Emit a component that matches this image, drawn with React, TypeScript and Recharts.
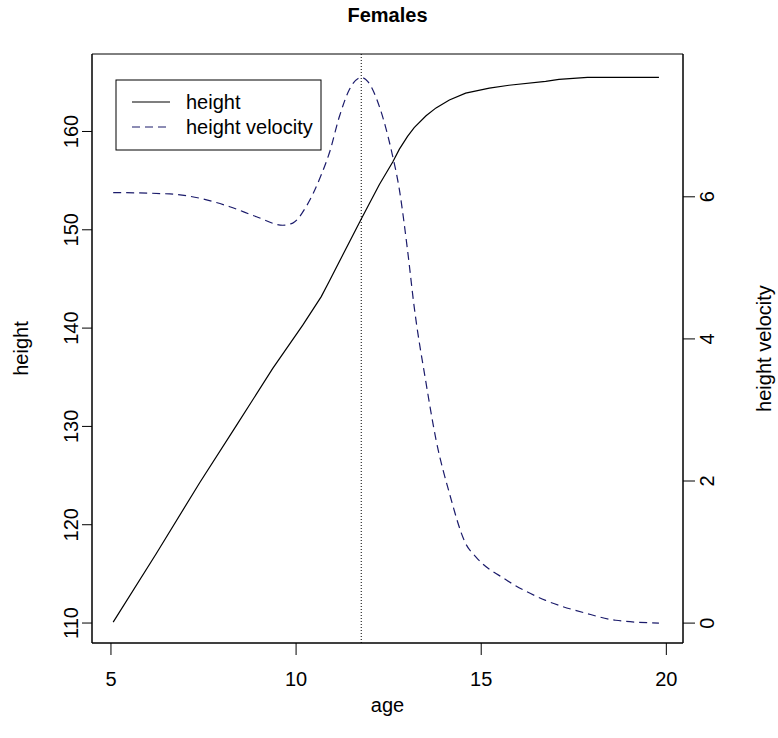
import { ComposedChart, Line, XAxis, YAxis, ReferenceLine, ReferenceArea, Customized } from 'recharts';

const FONT = '"Liberation Sans", Arial, Helvetica, sans-serif';
const VELOCITY_COLOR = '#1b1b6b';

const AGE_DOMAIN = [4.488, 20.45];
const HEIGHT_DOMAIN = [107.97, 167.88];
const VELOCITY_DOMAIN = [-0.28, 8.01];

const AGE_TICKS = [5, 10, 15, 20];
const HEIGHT_TICKS = [110, 120, 130, 140, 150, 160];
const VELOCITY_TICKS = [0, 2, 4, 6];

// height curve (age, cm)
const heightAges = [5.06, 6.23, 7.4, 8.39, 9.37, 10.18, 10.68, 10.9, 11.76, 12.25, 12.61, 12.79, 13.01, 13.19, 13.51, 13.78, 14.14, 14.58, 15.22, 15.75, 16.74, 17.1, 17.87, 19.8];
const heights = [110.1, 117.1, 124.3, 130.1, 135.9, 140.3, 143.2, 144.8, 151.1, 154.6, 156.9, 158.2, 159.5, 160.4, 161.6, 162.4, 163.2, 163.9, 164.4, 164.7, 165.1, 165.3, 165.5, 165.5];

// height velocity curve (age, cm/yr)
const velocityAges = [5.06, 6.59, 7.4, 8.21, 8.93, 9.64, 9.91, 10.27, 10.68, 10.9, 11.17, 11.44, 11.76, 11.94, 12.25, 12.57, 12.79, 13.01, 13.19, 13.51, 13.78, 14.14, 14.58, 14.86, 15.67, 16.74, 17.82, 18.63, 19.8];
const velocities = [6.06, 6.04, 5.98, 5.86, 5.72, 5.6, 5.63, 5.86, 6.31, 6.62, 7.13, 7.51, 7.68, 7.62, 7.27, 6.66, 6.1, 5.25, 4.45, 3.38, 2.58, 1.83, 1.12, 0.93, 0.61, 0.32, 0.14, 0.04, 0.0];

const PEAK_AGE = 11.76;

const heightData = heightAges.map((age, i) => ({ age, height: heights[i] }));
const velocityData = velocityAges.map((age, i) => ({ age, velocity: velocities[i] }));

const BottomTick = ({ x, y, payload }: any) => (
  <text x={x} y={y + 31} textAnchor="middle" fontSize={20} fontFamily={FONT} fill="#000">
    {payload.value}
  </text>
);

const LeftTick = ({ x, y, payload }: any) => {
  const bx = x - 4;
  return (
    <text x={bx} y={y} transform={`rotate(-90 ${bx} ${y})`} textAnchor="middle" fontSize={20} fontFamily={FONT} fill="#000">
      {payload.value}
    </text>
  );
};

const RightTick = ({ x, y, payload }: any) => {
  const bx = x + 19;
  return (
    <text x={bx} y={y} transform={`rotate(-90 ${bx} ${y})`} textAnchor="middle" fontSize={20} fontFamily={FONT} fill="#000">
      {payload.value}
    </text>
  );
};

const Title = () => (
  <text x={387.5} y={22} textAnchor="middle" fontSize={20} fontWeight="bold" fontFamily={FONT} fill="#000">
    Females
  </text>
);

const LegendBox = () => (
  <g transform="translate(116,80)" fontFamily={FONT} fontSize={20}>
    <rect x={0} y={0} width={205} height={70} fill="#fff" stroke="#000" strokeWidth={1} />
    <line x1={16} y1={22} x2={54} y2={22} stroke="#000" strokeWidth={1.2} />
    <text x={70} y={29} fill="#000">height</text>
    <line x1={16} y1={47} x2={54} y2={47} stroke={VELOCITY_COLOR} strokeWidth={1.2} strokeDasharray="8 5" />
    <text x={70} y={54} fill="#000">height velocity</text>
  </g>
);

export default function App() {
  return (
    <div style={{ position: 'absolute', left: 0, top: 0, width: 778, height: 738, background: '#fff' }}>
      <ComposedChart width={778} height={738} margin={{ top: 54, right: 0, bottom: 0, left: 0 }}>
        <XAxis
          type="number"
          dataKey="age"
          domain={AGE_DOMAIN}
          ticks={AGE_TICKS}
          allowDataOverflow
          height={95}
          tickSize={12}
          tickMargin={0}
          stroke="#000"
          tick={<BottomTick />}
          label={({ viewBox }: any) => (
            <text x={viewBox.x + viewBox.width / 2} y={viewBox.y + 69} textAnchor="middle" fontSize={20} fontFamily={FONT} fill="#000">
              age
            </text>
          )}
        />
        <YAxis
          yAxisId="left"
          orientation="left"
          type="number"
          domain={HEIGHT_DOMAIN}
          ticks={HEIGHT_TICKS}
          allowDataOverflow
          width={92}
          tickSize={10}
          tickMargin={0}
          stroke="#000"
          tick={<LeftTick />}
          label={({ viewBox }: any) => {
            const bx = 28;
            const cy = viewBox.y + viewBox.height / 2;
            return (
              <text x={bx} y={cy} transform={`rotate(-90 ${bx} ${cy})`} textAnchor="middle" fontSize={20} fontFamily={FONT} fill="#000">
                height
              </text>
            );
          }}
        />
        <YAxis
          yAxisId="right"
          orientation="right"
          type="number"
          domain={VELOCITY_DOMAIN}
          ticks={VELOCITY_TICKS}
          allowDataOverflow
          width={95}
          tickSize={12}
          tickMargin={0}
          stroke="#000"
          tick={<RightTick />}
          label={({ viewBox }: any) => {
            const bx = 771;
            const cy = viewBox.y + viewBox.height / 2;
            return (
              <text x={bx} y={cy} transform={`rotate(-90 ${bx} ${cy})`} textAnchor="middle" fontSize={20} fontFamily={FONT} fill="#000">
                height velocity
              </text>
            );
          }}
        />
        <ReferenceArea
          yAxisId="left"
          x1={AGE_DOMAIN[0]}
          x2={AGE_DOMAIN[1]}
          y1={HEIGHT_DOMAIN[0]}
          y2={HEIGHT_DOMAIN[1]}
          fill="none"
          fillOpacity={0}
          stroke="#000"
          strokeOpacity={1}
          strokeWidth={1}
          ifOverflow="visible"
        />
        <ReferenceLine yAxisId="left" x={PEAK_AGE} stroke="#000" strokeDasharray="1 2" strokeWidth={1} />
        <Line
          yAxisId="left"
          data={heightData}
          dataKey="height"
          type="linear"
          stroke="#000"
          strokeWidth={1.2}
          dot={false}
          activeDot={false}
          isAnimationActive={false}
        />
        <Line
          yAxisId="right"
          data={velocityData}
          dataKey="velocity"
          type="monotone"
          stroke={VELOCITY_COLOR}
          strokeWidth={1.2}
          strokeDasharray="8 5"
          dot={false}
          activeDot={false}
          isAnimationActive={false}
        />
        <Customized component={LegendBox} />
        <Customized component={Title} />
      </ComposedChart>
    </div>
  );
}
